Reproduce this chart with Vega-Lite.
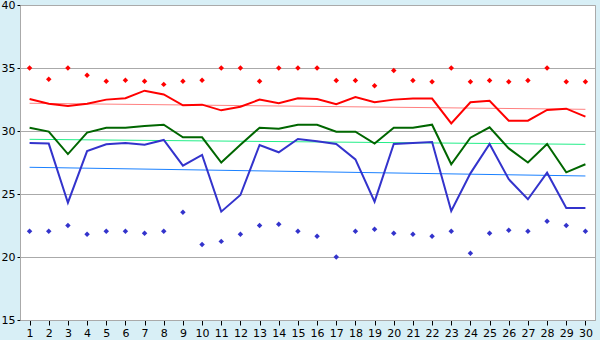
{
  "$schema": "https://vega.github.io/schema/vega-lite/v6.json",
  "width": 575,
  "height": 315,
  "autosize": {"type": "none"},
  "padding": {"left": 20, "top": 5, "right": 5, "bottom": 20},
  "background": "#d8eff6",
  "config": {
    "view": {"fill": "white", "stroke": "#aaaaaa", "strokeWidth": 1},
    "axis": {"labelFont": "DejaVu Sans", "labelFontSize": 11, "labelColor": "black", "domainColor": "#aaaaaa", "tickColor": "black", "title": null}
  },
  "datasets": {
    "days": [
      {"day": 1, "hi": 32.54, "avg": 30.26, "lo": 29.05, "max": 35.0, "min": 22.04},
      {"day": 2, "hi": 32.17, "avg": 29.95, "lo": 29.0, "max": 34.1, "min": 22.04},
      {"day": 3, "hi": 31.98, "avg": 28.17, "lo": 24.31, "max": 35.0, "min": 22.5},
      {"day": 4, "hi": 32.17, "avg": 29.87, "lo": 28.41, "max": 34.42, "min": 21.8},
      {"day": 5, "hi": 32.49, "avg": 30.26, "lo": 28.94, "max": 33.94, "min": 22.04},
      {"day": 6, "hi": 32.6, "avg": 30.26, "lo": 29.05, "max": 34.02, "min": 22.04},
      {"day": 7, "hi": 33.2, "avg": 30.4, "lo": 28.91, "max": 33.94, "min": 21.88},
      {"day": 8, "hi": 32.9, "avg": 30.5, "lo": 29.29, "max": 33.7, "min": 22.04},
      {"day": 9, "hi": 32.04, "avg": 29.5, "lo": 27.25, "max": 33.94, "min": 23.55},
      {"day": 10, "hi": 32.09, "avg": 29.5, "lo": 28.1, "max": 34.02, "min": 21.0},
      {"day": 11, "hi": 31.64, "avg": 27.5, "lo": 23.6, "max": 35.0, "min": 21.24},
      {"day": 12, "hi": 31.93, "avg": 28.9, "lo": 24.92, "max": 35.0, "min": 21.8},
      {"day": 13, "hi": 32.49, "avg": 30.26, "lo": 28.89, "max": 33.94, "min": 22.5},
      {"day": 14, "hi": 32.2, "avg": 30.18, "lo": 28.31, "max": 35.0, "min": 22.6},
      {"day": 15, "hi": 32.6, "avg": 30.5, "lo": 29.37, "max": 35.0, "min": 22.04},
      {"day": 16, "hi": 32.54, "avg": 30.5, "lo": 29.18, "max": 35.0, "min": 21.64},
      {"day": 17, "hi": 32.12, "avg": 29.95, "lo": 28.97, "max": 34.0, "min": 20.0},
      {"day": 18, "hi": 32.7, "avg": 29.95, "lo": 27.75, "max": 34.0, "min": 22.04},
      {"day": 19, "hi": 32.28, "avg": 29.0, "lo": 24.39, "max": 33.6, "min": 22.2},
      {"day": 20, "hi": 32.49, "avg": 30.26, "lo": 28.97, "max": 34.8, "min": 21.88},
      {"day": 21, "hi": 32.57, "avg": 30.26, "lo": 29.05, "max": 34.0, "min": 21.8},
      {"day": 22, "hi": 32.57, "avg": 30.5, "lo": 29.13, "max": 33.9, "min": 21.64},
      {"day": 23, "hi": 30.6, "avg": 27.36, "lo": 23.65, "max": 35.0, "min": 22.04},
      {"day": 24, "hi": 32.28, "avg": 29.47, "lo": 26.64, "max": 33.9, "min": 20.3},
      {"day": 25, "hi": 32.4, "avg": 30.29, "lo": 28.97, "max": 34.0, "min": 21.88},
      {"day": 26, "hi": 30.82, "avg": 28.62, "lo": 26.17, "max": 33.9, "min": 22.12},
      {"day": 27, "hi": 30.82, "avg": 27.5, "lo": 24.58, "max": 34.0, "min": 22.04},
      {"day": 28, "hi": 31.67, "avg": 28.97, "lo": 26.69, "max": 35.0, "min": 22.83},
      {"day": 29, "hi": 31.77, "avg": 26.72, "lo": 23.89, "max": 33.9, "min": 22.5},
      {"day": 30, "hi": 31.14, "avg": 27.36, "lo": 23.89, "max": 33.9, "min": 22.04}
    ],
    "trend": [
      {"day": 1, "hi": 32.2, "avg": 29.34, "lo": 27.12},
      {"day": 30, "hi": 31.72, "avg": 28.94, "lo": 26.43}
    ]
  },
  "encoding": {
    "x": {"field": "day", "type": "quantitative", "scale": {"domain": [0.5, 30.5], "nice": false, "zero": false},
      "axis": {"values": [1,2,3,4,5,6,7,8,9,10,11,12,13,14,15,16,17,18,19,20,21,22,23,24,25,26,27,28,29,30], "grid": false, "tickSize": 5, "labelPadding": 2, "format": "d"}}
  },
  "layer": [
    {"data": {"name": "trend"}, "mark": {"type": "line", "color": "#ff8080", "strokeWidth": 1},
      "encoding": {"y": {"field": "hi", "type": "quantitative", "scale": {"domain": [15, 40], "nice": false, "zero": false},
        "axis": {"values": [15, 20, 25, 30, 35, 40], "grid": true, "gridColor": "#aaaaaa", "gridOpacity": 1, "tickSize": 3, "labelPadding": 2}}}},
    {"data": {"name": "trend"}, "mark": {"type": "line", "color": "#22ee88", "strokeWidth": 1},
      "encoding": {"y": {"field": "avg", "type": "quantitative"}}},
    {"data": {"name": "trend"}, "mark": {"type": "line", "color": "#1a80ff", "strokeWidth": 1},
      "encoding": {"y": {"field": "lo", "type": "quantitative"}}},
    {"data": {"name": "days"}, "mark": {"type": "line", "color": "#ff0000", "strokeWidth": 2},
      "encoding": {"y": {"field": "hi", "type": "quantitative"}}},
    {"data": {"name": "days"}, "mark": {"type": "line", "color": "#006600", "strokeWidth": 2},
      "encoding": {"y": {"field": "avg", "type": "quantitative"}}},
    {"data": {"name": "days"}, "mark": {"type": "line", "color": "#3333cc", "strokeWidth": 2},
      "encoding": {"y": {"field": "lo", "type": "quantitative"}}},
    {"data": {"name": "days"}, "mark": {"type": "point", "shape": "diamond", "filled": true, "color": "#ff0000", "size": 30, "opacity": 1},
      "encoding": {"y": {"field": "max", "type": "quantitative"}}},
    {"data": {"name": "days"}, "mark": {"type": "point", "shape": "diamond", "filled": true, "color": "#3333cc", "size": 30, "opacity": 1},
      "encoding": {"y": {"field": "min", "type": "quantitative"}}}
  ]
}
